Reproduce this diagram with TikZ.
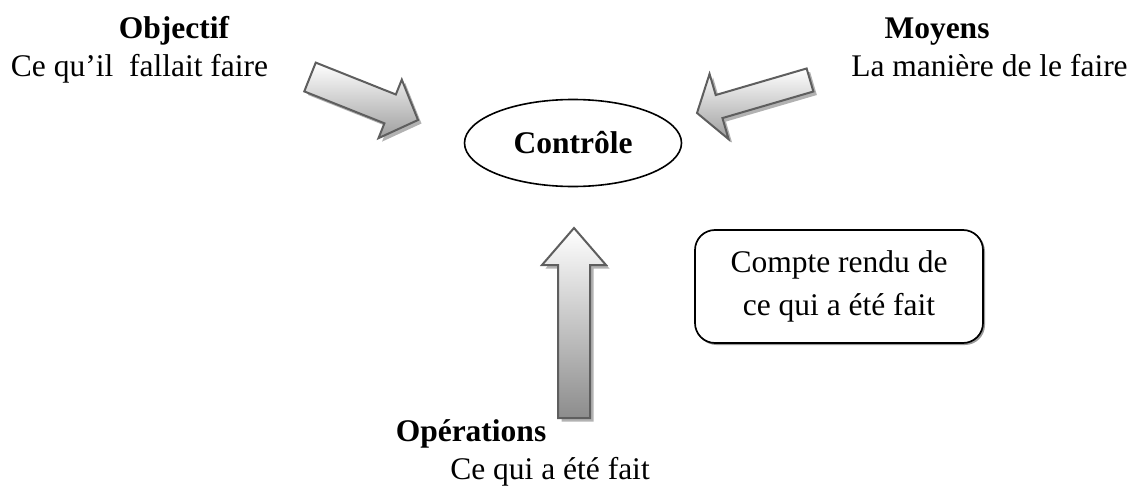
\documentclass[tikz,border=0pt]{standalone}
\usepackage{fontspec}
\setmainfont{Liberation Serif}
\usetikzlibrary{calc,shapes.geometric}

\definecolor{arrowline}{HTML}{5E5E5E}
\definecolor{arrowshadow}{HTML}{B2B2B2}
\definecolor{boxshadow}{HTML}{9A9A9A}

\tikzset{
  plain text/.style={inner sep=0pt, anchor=base, font=\fontsize{31.5}{38}\selectfont},
  title text/.style={plain text, font=\fontsize{31.5}{38}\selectfont\bfseries},
  hub/.style={ellipse, draw=black, line width=1.6pt, minimum width=217pt,
    minimum height=87pt, inner sep=0pt, font=\fontsize{31.5}{38}\selectfont\bfseries},
  notebox/.style={draw=black, line width=1.7pt, rounded corners=20pt,
    minimum width=288pt, minimum height=113pt, inner sep=0pt, align=center,
    font=\fontsize{31.5}{43}\selectfont},
  arrowbody/.style={draw=arrowline, line width=2pt, line join=miter},
}

% Block arrow: #1 name, #2 tail, #3 tip, #4 half shaft width,
% #5 half head width, #6 head length, #7 colour at the bottom of the fill
\newcommand\blockarrow[7]{%
  \coordinate (#1-t) at (#2);
  \coordinate (#1-p) at (#3);
  \coordinate (#1-n) at ($(#1-p)!#6!(#1-t)$);
  \coordinate (#1-a) at ($(#1-t)!#4!90:(#1-p)$);
  \coordinate (#1-b) at ($(#1-n)!#4!90:(#1-p)$);
  \coordinate (#1-c) at ($(#1-n)!#5!90:(#1-p)$);
  \coordinate (#1-d) at ($(#1-n)!#5!-90:(#1-p)$);
  \coordinate (#1-e) at ($(#1-n)!#4!-90:(#1-p)$);
  \coordinate (#1-f) at ($(#1-t)!#4!-90:(#1-p)$);
  \fill[arrowshadow, transform canvas={xshift=3.5pt,yshift=-3.5pt}]
    (#1-a) -- (#1-b) -- (#1-c) -- (#1-p) -- (#1-d) -- (#1-e) -- (#1-f) -- cycle;
  \shade[arrowbody, top color=white, bottom color=#7]
    (#1-a) -- (#1-b) -- (#1-c) -- (#1-p) -- (#1-d) -- (#1-e) -- (#1-f) -- cycle;
}

\begin{document}
\begin{tikzpicture}[x=1pt, y=-1pt]
  \useasboundingbox (0,0) rectangle (1129,487);

  % centre
  \node[hub] (ctrl) at (573,143) {Contrôle};

  % three inputs
  \blockarrow{obj}{310,77}{418,120}{15.5pt}{31.5pt}{30pt}{black!38}
  \blockarrow{moy}{810,80}{697,113}{12pt}{34pt}{23pt}{black!38}
  \blockarrow{ops}{574,418}{574,228}{16pt}{32pt}{37pt}{black!45}

  % labels
  \node[title text] (objt) at (174,39) {Objectif};
  \node[plain text] (objs) at (139.5,76) {Ce qu’il\ \ fallait faire};
  \node[title text] (moyt) at (937,39) {Moyens};
  \node[plain text] (moys) at (989.5,76) {La manière de le faire};
  \node[title text] (opst) at (471,441) {Opérations};
  \node[plain text] (opss) at (550,479) {Ce qui a été fait};

  % report box
  \fill[boxshadow, rounded corners=20pt] (696.5,231.5) rectangle (985,345);
  \node[notebox, fill=white] (cr) at (839,286.5) {Compte rendu de\\ce qui a été fait};
\end{tikzpicture}
\end{document}
